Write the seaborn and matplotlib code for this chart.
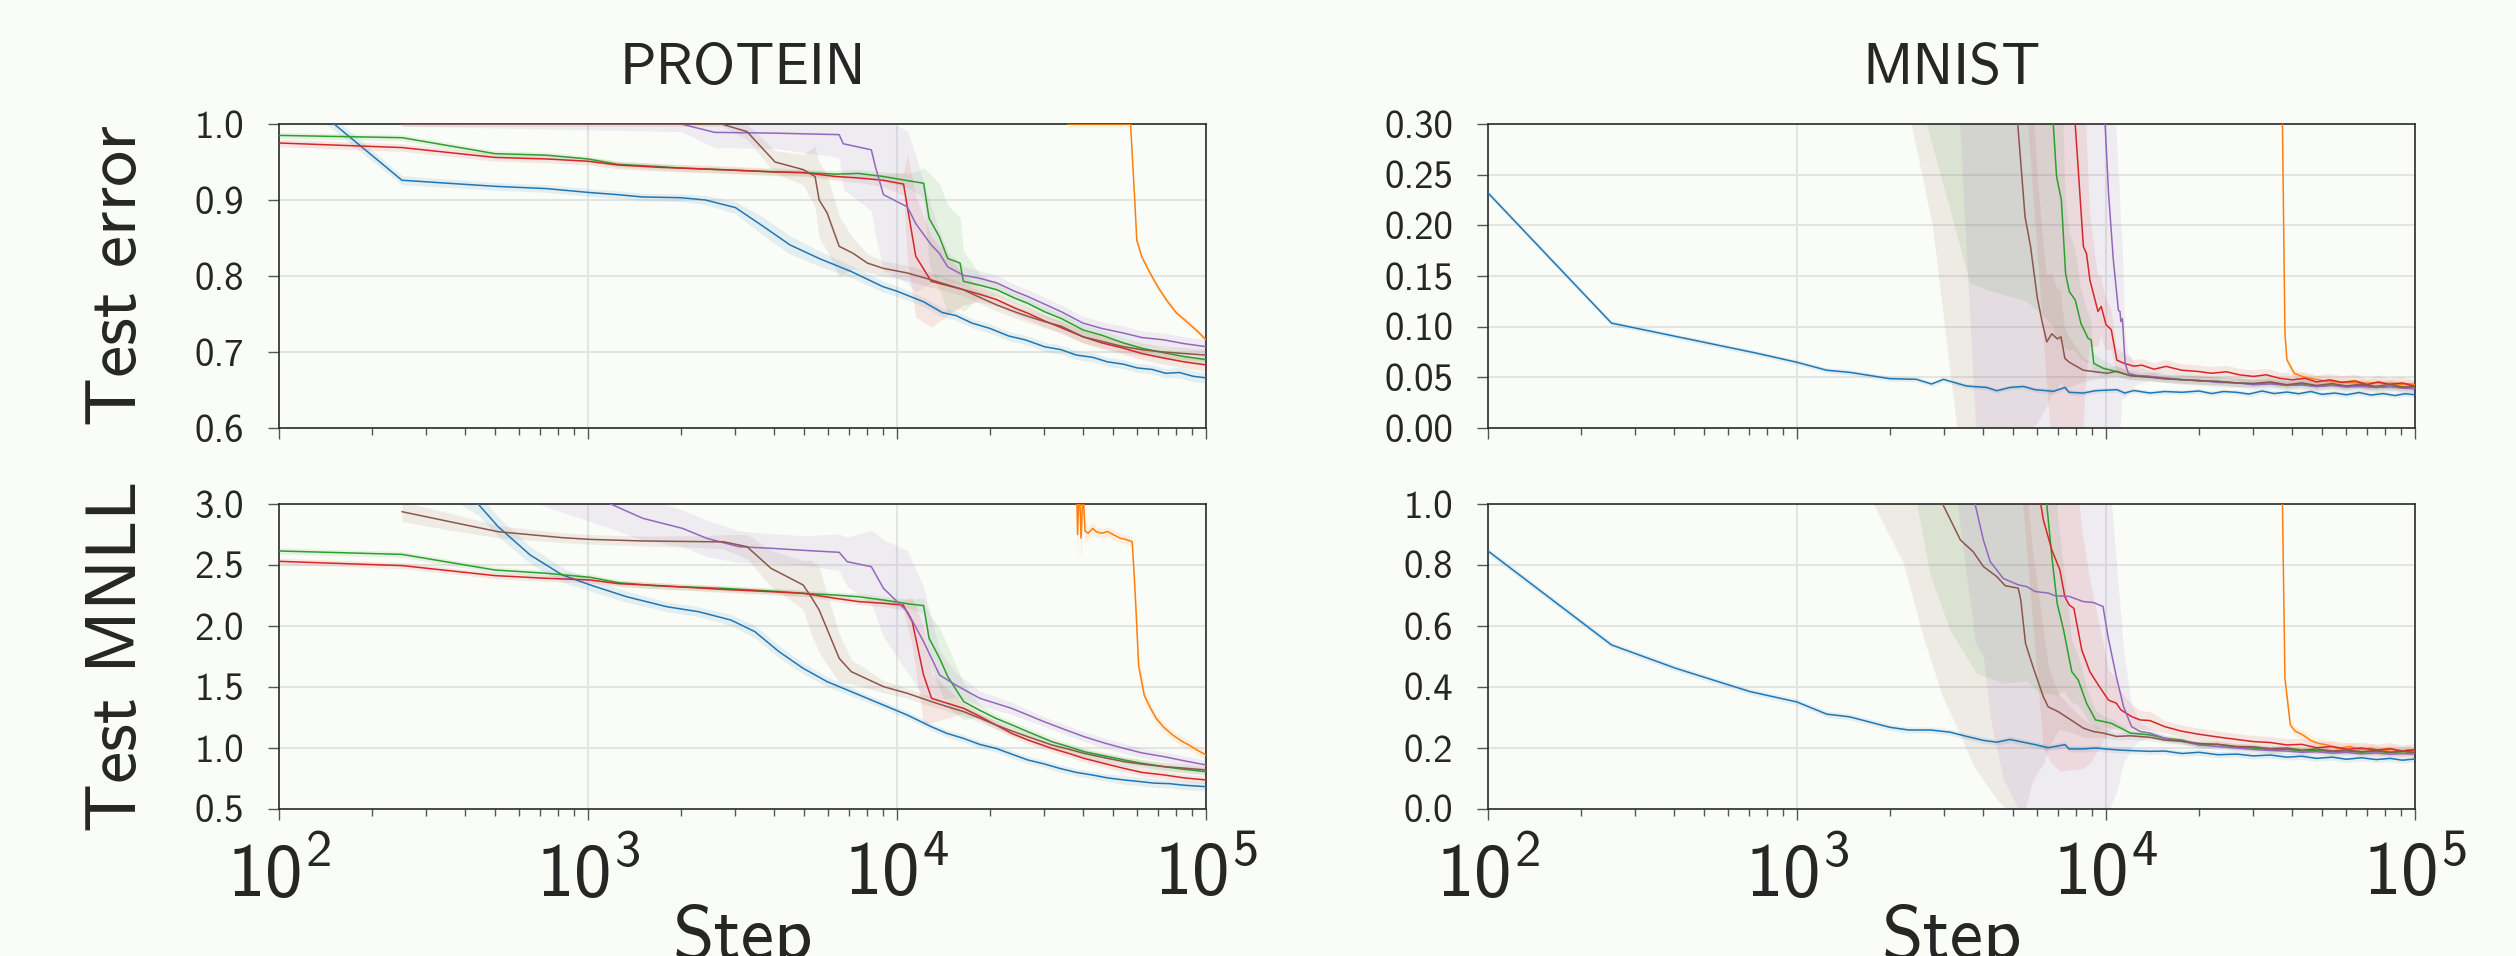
import numpy as np
import matplotlib
matplotlib.use("Agg")
import matplotlib.pyplot as plt
import seaborn as sns
from matplotlib.ticker import FixedLocator, FormatStrFormatter, LogLocator, NullFormatter

# ---------------- data: PROTEIN, test error ----------------
pe_blue_x = [100, 250, 500, 733, 1000, 1250, 1500, 2000, 2400, 3000, 3700, 4500, 5600, 7100, 9000, 10000, 12200, 14000, 15500, 17500,
             20000, 23000, 26000, 30000, 34000, 38000, 43000, 48000, 54000, 60000, 67000, 74000, 82000, 91000, 100000]
pe_blue_y = [1.06, 0.926, 0.918, 0.915, 0.910, 0.907, 0.904, 0.903, 0.900, 0.890, 0.865, 0.841, 0.823, 0.806, 0.786, 0.780, 0.766, 0.752, 0.748, 0.738,
             0.731, 0.721, 0.716, 0.707, 0.703, 0.696, 0.693, 0.687, 0.684, 0.679, 0.677, 0.672, 0.673, 0.668, 0.666]
pe_blue_sd = [0.01, 0.006, 0.005, 0.005, 0.005, 0.005, 0.005, 0.005, 0.006, 0.008, 0.012, 0.012, 0.01, 0.008, 0.007, 0.007, 0.006, 0.006, 0.006, 0.006,
              0.006, 0.006, 0.006, 0.006, 0.006, 0.006, 0.006, 0.006, 0.006, 0.006, 0.006, 0.006, 0.007, 0.007, 0.007]

pe_green_x = [100, 250, 500, 733, 1000, 1250, 1700, 2000, 3000, 4000, 5000, 6300, 7500, 9000, 11000, 12200, 12700, 13700, 14600, 16000,
              16400, 18500, 21000, 24000, 26500, 30000, 34000, 40000, 46000, 54000, 62000, 73000, 85000, 100000]
pe_green_y = [0.985, 0.982, 0.961, 0.959, 0.954, 0.947, 0.944, 0.942, 0.939, 0.937, 0.936, 0.934, 0.935, 0.931, 0.925, 0.922, 0.876, 0.852, 0.823, 0.817,
              0.793, 0.788, 0.782, 0.771, 0.764, 0.753, 0.744, 0.729, 0.722, 0.712, 0.705, 0.699, 0.694, 0.690]
pe_green_sd = [0.004, 0.004, 0.004, 0.004, 0.004, 0.004, 0.004, 0.004, 0.004, 0.004, 0.004, 0.005, 0.005, 0.006, 0.01, 0.02, 0.06, 0.07, 0.07, 0.06,
               0.04, 0.015, 0.008, 0.007, 0.007, 0.007, 0.007, 0.007, 0.007, 0.007, 0.007, 0.007, 0.007, 0.007]

pe_red_x = [100, 250, 500, 733, 1000, 1250, 1700, 2700, 4000, 5000, 6300, 7500, 9000, 10500, 10800, 11500, 12900, 16400, 18500, 21000,
            24000, 26500, 30000, 34000, 40000, 46000, 54000, 62000, 73000, 85000, 100000]
pe_red_y = [0.975, 0.969, 0.956, 0.954, 0.951, 0.946, 0.943, 0.940, 0.937, 0.936, 0.931, 0.929, 0.926, 0.921, 0.891, 0.826, 0.793, 0.782, 0.776, 0.769,
            0.758, 0.751, 0.741, 0.732, 0.720, 0.712, 0.705, 0.698, 0.692, 0.687, 0.683]
pe_red_sd = [0.005, 0.005, 0.005, 0.005, 0.005, 0.005, 0.005, 0.005, 0.005, 0.005, 0.005, 0.006, 0.008, 0.015, 0.07, 0.08, 0.06, 0.02, 0.01, 0.008,
             0.008, 0.008, 0.008, 0.008, 0.008, 0.008, 0.008, 0.008, 0.008, 0.008, 0.008]

pe_purple_x = [250, 2000, 2570, 4000, 6500, 6700, 8260, 8510, 9040, 10800, 11500, 12900, 13700, 14600, 16400, 18500, 21000, 24000, 26500, 30000,
               34000, 40000, 46000, 54000, 62000, 73000, 85000, 100000]
pe_purple_y = [1.0, 1.0, 0.989, 0.988, 0.986, 0.974, 0.966, 0.944, 0.907, 0.891, 0.869, 0.841, 0.830, 0.812, 0.801, 0.797, 0.791, 0.780, 0.773, 0.763,
               0.753, 0.738, 0.731, 0.725, 0.719, 0.716, 0.711, 0.707]
pe_purple_sd = [0.003, 0.01, 0.02, 0.02, 0.03, 0.06, 0.08, 0.09, 0.1, 0.1, 0.09, 0.05, 0.03, 0.02, 0.012, 0.01, 0.01, 0.009, 0.009, 0.009,
                0.009, 0.009, 0.009, 0.009, 0.009, 0.009, 0.009, 0.009]

pe_brown_x = [250, 2700, 3270, 4030, 4970, 5430, 5600, 5940, 6500, 7200, 8020, 9040, 10800, 12900, 16400, 18500, 21000, 24000, 26500, 30000,
              34000, 40000, 46000, 54000, 62000, 73000, 85000, 100000]
pe_brown_y = [1.0, 1.0, 0.990, 0.950, 0.940, 0.931, 0.900, 0.883, 0.839, 0.830, 0.817, 0.810, 0.804, 0.795, 0.782, 0.772, 0.762, 0.753, 0.747, 0.740,
              0.734, 0.720, 0.714, 0.707, 0.703, 0.700, 0.698, 0.696]
pe_brown_sd = [0.003, 0.003, 0.01, 0.015, 0.02, 0.04, 0.05, 0.05, 0.04, 0.02, 0.012, 0.01, 0.01, 0.01, 0.008, 0.008, 0.008, 0.008, 0.008, 0.008,
               0.008, 0.008, 0.008, 0.008, 0.008, 0.008, 0.008, 0.008]

pe_orange_x = [35700, 45000, 57000, 58800, 59700, 62000, 65900, 70000, 74600, 80000, 87700, 94000, 100000]
pe_orange_y = [1.0, 1.0, 1.0, 0.900, 0.847, 0.825, 0.804, 0.785, 0.768, 0.752, 0.738, 0.727, 0.716]
pe_orange_sd = 0.004

# ---------------- data: MNIST, test error ----------------
me_blue_x = [100, 251, 515, 738, 995, 1248, 1483, 1995, 2438, 2725, 2977, 3540, 4110, 4430, 4890, 5400, 5900, 6760, 7360, 7600,
             8450, 9250, 10840, 11500, 12300, 13870, 15500, 17600, 20000, 22000, 24000, 26500, 29000, 32000, 35000, 38500, 42000, 46000, 50000, 55000,
             60000, 66000, 72000, 79000, 86000, 93000, 100000]
me_blue_y = [0.232, 0.1035, 0.0838, 0.0739, 0.065, 0.057, 0.0549, 0.0487, 0.048, 0.0434, 0.048, 0.0414, 0.040, 0.0368, 0.040, 0.041, 0.0378, 0.0362, 0.040, 0.0352,
             0.0345, 0.0368, 0.0378, 0.0345, 0.037, 0.0345, 0.036, 0.0352, 0.0365, 0.034, 0.036, 0.0352, 0.0335, 0.0365, 0.034, 0.0355, 0.0338, 0.036, 0.0332, 0.0345,
             0.0328, 0.035, 0.0325, 0.034, 0.032, 0.0338, 0.0328]
me_blue_sd = 0.0025

me_brown_x = [250, 1000, 2000, 2350, 2750, 3300, 4000, 4600, 5180, 5470, 5700, 5990, 6230, 6430, 6680, 6950, 7150, 7360, 7600, 8450,
              9250, 10100, 10800, 12000, 13870, 15500, 17600, 20000, 23000, 26500, 30000, 34000, 38500, 43000, 48000, 54000, 60000, 67000, 75000, 83000,
              91000, 100000]
me_brown_y = [0.90, 0.90, 0.90, 0.88, 0.85, 0.80, 0.62, 0.45, 0.30, 0.2085, 0.179, 0.129, 0.103, 0.085, 0.093, 0.088, 0.090, 0.0687, 0.065, 0.057,
              0.0555, 0.054, 0.056, 0.0515, 0.050, 0.0485, 0.0476, 0.0468, 0.046, 0.0445, 0.044, 0.0455, 0.0427, 0.0445, 0.042, 0.0438, 0.0415, 0.0432, 0.041, 0.043,
              0.0405, 0.041]
me_brown_sd = [0.05, 0.05, 0.25, 0.58, 0.65, 0.80, 0.67, 0.48, 0.32, 0.22, 0.18, 0.125, 0.09, 0.065, 0.06, 0.05, 0.045, 0.03, 0.025, 0.012,
               0.008, 0.005, 0.005, 0.004, 0.004, 0.004, 0.004, 0.004, 0.004, 0.004, 0.004, 0.004, 0.004, 0.004, 0.004, 0.004, 0.004, 0.004, 0.004, 0.004,
               0.004, 0.004]

me_green_x = [250, 1000, 2000, 2630, 3170, 3630, 4220, 5530, 6300, 6750, 6920, 7170, 7400, 7610, 7950, 8300, 8750, 8950, 9130, 9780,
              10840, 11900, 13870, 15500, 17600, 20000, 23000, 26500, 30000, 34000, 38500, 43000, 48000, 54000, 60000, 67000, 75000, 83000, 91000, 100000]
me_green_y = [0.90, 0.90, 0.88, 0.85, 0.78, 0.70, 0.62, 0.48, 0.38, 0.30, 0.248, 0.225, 0.1525, 0.1345, 0.1263, 0.103, 0.0885, 0.087, 0.0638, 0.059,
              0.0555, 0.052, 0.0507, 0.049, 0.0478, 0.0465, 0.046, 0.0445, 0.0435, 0.0445, 0.042, 0.0432, 0.041, 0.0425, 0.0408, 0.042, 0.040, 0.0412, 0.0395, 0.039]
me_green_sd = [0.05, 0.05, 0.40, 0.55, 0.57, 0.557, 0.485, 0.355, 0.27, 0.20, 0.16, 0.14, 0.075, 0.058, 0.05, 0.035, 0.025, 0.02, 0.01, 0.008,
               0.005, 0.005, 0.004, 0.004, 0.004, 0.004, 0.004, 0.004, 0.004, 0.004, 0.004, 0.004, 0.004, 0.004, 0.004, 0.004, 0.004, 0.004, 0.004, 0.004]

me_red_x = [250, 2000, 4000, 5600, 6600, 7400, 7950, 8450, 8650, 8870, 9420, 9650, 10000, 10400, 10840, 11400, 12300, 13060, 14300, 15640,
            17600, 19860, 22000, 24500, 27000, 30000, 33000, 36500, 40000, 44000, 48000, 53000, 58000, 64000, 70000, 76000, 83000, 91000, 100000]
me_red_y = [0.90, 0.90, 0.85, 0.75, 0.55, 0.40, 0.30, 0.179, 0.172, 0.146, 0.115, 0.12, 0.102, 0.097, 0.067, 0.064, 0.061, 0.062, 0.058, 0.0608,
            0.057, 0.0558, 0.054, 0.0555, 0.0525, 0.0509, 0.0525, 0.049, 0.0476, 0.049, 0.0455, 0.0475, 0.045, 0.0465, 0.0427, 0.0455, 0.043, 0.0445, 0.041]
me_red_sd = [0.05, 0.05, 0.3, 0.45, 0.55, 0.42, 0.32, 0.18, 0.12, 0.066, 0.035, 0.03, 0.025, 0.02, 0.012, 0.01, 0.006, 0.006, 0.006, 0.006,
             0.006, 0.006, 0.006, 0.006, 0.006, 0.006, 0.006, 0.006, 0.006, 0.006, 0.006, 0.006, 0.006, 0.006, 0.006, 0.006, 0.006, 0.006, 0.006]

me_purple_x = [250, 2000, 3370, 3800, 5000, 7000, 9000, 9930, 10190, 10560, 10970, 11100, 11170, 11300, 11530, 11800, 12500, 13870, 15500, 17600,
               20000, 23000, 26500, 30000, 34000, 38500, 43000, 48000, 54000, 60000, 67000, 75000, 83000, 91000, 100000]
me_purple_y = [0.90, 0.90, 0.88, 0.85, 0.75, 0.60, 0.42, 0.30, 0.232, 0.166, 0.116, 0.115, 0.105, 0.108, 0.064, 0.054, 0.052, 0.051, 0.0495, 0.0476,
               0.047, 0.045, 0.0445, 0.0427, 0.0435, 0.042, 0.0425, 0.041, 0.042, 0.0405, 0.041, 0.040, 0.0408, 0.0395, 0.039]
me_purple_sd = [0.05, 0.1, 0.58, 0.85, 0.78, 0.63, 0.45, 0.33, 0.26, 0.19, 0.14, 0.12, 0.1, 0.08, 0.035, 0.02, 0.01, 0.005, 0.005, 0.005,
                0.005, 0.005, 0.005, 0.005, 0.005, 0.005, 0.005, 0.005, 0.005, 0.005, 0.005, 0.005, 0.005, 0.005, 0.005]

me_orange_x = [35700, 37000, 37240, 37940, 38500, 40600, 43000, 45700, 49000, 52000, 56000, 60000, 65000, 70000, 75000, 80000, 85000, 90000, 95000, 100000]
me_orange_y = [0.90, 0.90, 0.30, 0.0937, 0.0673, 0.0542, 0.051, 0.049, 0.0475, 0.046, 0.0455, 0.045, 0.0445, 0.044, 0.0448, 0.0435, 0.0442, 0.043, 0.0438, 0.0427]
me_orange_sd = 0.004

# ---------------- data: PROTEIN, test MNLL ----------------
pm_blue_x = [100, 250, 441, 512, 650, 826, 1018, 1333, 1800, 2280, 2900, 3466, 4150, 4970, 5940, 7110, 9040, 10800, 12900, 14500,
             16400, 18500, 20900, 23500, 26500, 29900, 33600, 38000, 42800, 48000, 54300, 61000, 68000, 76000, 85000, 100000]
pm_blue_y = [4.3, 3.4, 3.0, 2.814, 2.582, 2.418, 2.336, 2.24, 2.158, 2.117, 2.049, 1.954, 1.79, 1.653, 1.544, 1.462, 1.352, 1.27, 1.175, 1.12,
             1.079, 1.03, 0.997, 0.95, 0.902, 0.87, 0.833, 0.80, 0.779, 0.755, 0.738, 0.725, 0.712, 0.708, 0.695, 0.683]
pm_blue_sd = [0.2, 0.12, 0.09, 0.08, 0.07, 0.06, 0.05, 0.045, 0.04, 0.04, 0.045, 0.05, 0.05, 0.045, 0.04, 0.035, 0.03, 0.03, 0.03, 0.03,
              0.03, 0.03, 0.03, 0.03, 0.03, 0.03, 0.03, 0.03, 0.03, 0.03, 0.035, 0.035, 0.035, 0.035, 0.035, 0.035]

pm_green_x = [100, 250, 500, 733, 1018, 1256, 1694, 2730, 4000, 4970, 6310, 7500, 9040, 11000, 12190, 12700, 13740, 14600, 16440, 18500,
              20900, 23500, 26500, 31700, 36000, 40300, 47000, 54300, 62000, 73200, 85000, 100000]
pm_green_y = [2.615, 2.587, 2.459, 2.432, 2.399, 2.355, 2.328, 2.309, 2.285, 2.268, 2.254, 2.24, 2.213, 2.18, 2.167, 1.90, 1.735, 1.585, 1.38, 1.31,
              1.243, 1.19, 1.134, 1.052, 1.01, 0.97, 0.935, 0.902, 0.875, 0.847, 0.825, 0.806]
pm_green_sd = [0.025, 0.025, 0.025, 0.025, 0.025, 0.025, 0.025, 0.025, 0.025, 0.025, 0.025, 0.03, 0.03, 0.04, 0.06, 0.2, 0.25, 0.25, 0.15, 0.05,
               0.03, 0.03, 0.03, 0.03, 0.03, 0.03, 0.03, 0.03, 0.03, 0.03, 0.03, 0.03]

pm_red_x = [100, 250, 500, 733, 1018, 1256, 1694, 2730, 4000, 4970, 6310, 7500, 9040, 10470, 11200, 12190, 12940, 16440, 18500, 20900,
            23500, 26500, 31700, 36000, 40300, 47000, 54300, 62000, 73200, 85000, 100000]
pm_red_y = [2.530, 2.495, 2.413, 2.391, 2.377, 2.347, 2.331, 2.30, 2.28, 2.268, 2.227, 2.20, 2.186, 2.172, 2.036, 1.598, 1.407, 1.325, 1.26, 1.189,
            1.12, 1.066, 0.997, 0.955, 0.915, 0.872, 0.833, 0.80, 0.779, 0.755, 0.738]
pm_red_sd = [0.025, 0.025, 0.025, 0.025, 0.025, 0.025, 0.025, 0.025, 0.025, 0.025, 0.025, 0.025, 0.03, 0.04, 0.2, 0.4, 0.2, 0.04, 0.03, 0.03,
             0.03, 0.03, 0.03, 0.03, 0.03, 0.03, 0.03, 0.03, 0.03, 0.03, 0.03]

pm_purple_x = [250, 600, 1183, 1503, 2023, 2420, 3075, 3910, 5000, 6500, 6900, 8260, 9040, 10810, 12190, 13740, 15490, 18550, 23500, 29900,
               35000, 40300, 47000, 54300, 62000, 73200, 85000, 100000]
pm_purple_y = [3.6, 3.3, 3.0, 2.883, 2.80, 2.719, 2.65, 2.637, 2.62, 2.604, 2.527, 2.486, 2.309, 2.117, 1.872, 1.598, 1.516, 1.407, 1.325, 1.216,
               1.15, 1.093, 1.04, 0.997, 0.96, 0.929, 0.895, 0.861]
pm_purple_sd = [0.3, 0.25, 0.2, 0.18, 0.15, 0.15, 0.13, 0.12, 0.12, 0.15, 0.2, 0.3, 0.4, 0.5, 0.45, 0.2, 0.1, 0.06, 0.05, 0.04,
                0.04, 0.04, 0.04, 0.04, 0.04, 0.04, 0.04, 0.04]

pm_brown_x = [250, 357, 512, 826, 1018, 1503, 2420, 2750, 3270, 3910, 4970, 5270, 5600, 6500, 7110, 9040, 10810, 12940, 14500, 16440,
              18500, 20900, 23500, 26500, 31700, 36000, 40300, 47000, 54300, 62000, 73200, 85000, 100000]
pm_brown_y = [2.937, 2.855, 2.773, 2.724, 2.71, 2.697, 2.691, 2.69, 2.65, 2.473, 2.336, 2.240, 2.131, 1.735, 1.626, 1.503, 1.448, 1.38, 1.34, 1.298,
              1.245, 1.189, 1.14, 1.093, 1.025, 0.99, 0.956, 0.92, 0.888, 0.868, 0.847, 0.835, 0.82]
pm_brown_sd = [0.08, 0.07, 0.05, 0.04, 0.04, 0.04, 0.05, 0.06, 0.1, 0.15, 0.2, 0.3, 0.35, 0.2, 0.1, 0.05, 0.04, 0.04, 0.035, 0.035,
               0.035, 0.035, 0.035, 0.035, 0.035, 0.035, 0.035, 0.035, 0.035, 0.035, 0.035, 0.035, 0.035]

pm_orange_x = [35700, 37900, 38400, 38900, 39400, 40000, 40600, 41500, 43000, 44100, 46000, 48000, 50000, 52700, 55000, 57700, 58600, 59400, 60500, 63100,
               66000, 69000, 73000, 78000, 83000, 88000, 94000, 100000]
pm_orange_y = [3.6, 3.5, 2.75, 3.2, 2.72, 3.1, 2.78, 2.76, 2.80, 2.773, 2.76, 2.775, 2.75, 2.72, 2.71, 2.69, 2.40, 2.117, 1.68, 1.434,
               1.33, 1.243, 1.17, 1.107, 1.06, 1.025, 0.98, 0.943]
pm_orange_sd = [0.3, 0.3, 0.25, 0.25, 0.2, 0.2, 0.1, 0.05, 0.05, 0.04, 0.04, 0.04, 0.04, 0.04, 0.04, 0.04, 0.06, 0.08, 0.08, 0.06,
                0.04, 0.04, 0.04, 0.04, 0.04, 0.04, 0.04, 0.04]

# ---------------- data: MNIST, test MNLL ----------------
mm_blue_x = [100, 251, 406, 704, 999, 1248, 1483, 1995, 2300, 2700, 3125, 3540, 4010, 4430, 4890, 5400, 5900, 6500, 7360, 7600,
             8450, 9250, 10200, 11170, 13870, 15500, 17600, 20000, 23000, 26500, 30000, 34000, 38500, 43000, 48000, 54000, 60000, 67000, 75000, 83000,
             91000, 100000]
mm_blue_y = [0.846, 0.538, 0.461, 0.385, 0.351, 0.311, 0.302, 0.268, 0.259, 0.259, 0.252, 0.238, 0.225, 0.219, 0.228, 0.219, 0.211, 0.201, 0.211, 0.197,
             0.197, 0.200, 0.196, 0.193, 0.189, 0.19, 0.182, 0.186, 0.178, 0.18, 0.174, 0.177, 0.17, 0.173, 0.166, 0.17, 0.163, 0.168, 0.162, 0.166,
             0.16, 0.164]
mm_blue_sd = 0.01

mm_brown_x = [250, 1000, 1766, 2210, 2560, 2960, 3380, 3720, 4010, 4430, 4720, 5200, 5300, 5490, 5800, 6270, 6500, 7010, 7700, 8450,
              9100, 9780, 10800, 12000, 13870, 15500, 17600, 20000, 23000, 26500, 30000, 34000, 38500, 43000, 48000, 54000, 60000, 67000, 75000, 83000,
              91000, 100000]
mm_brown_y = [2.0, 2.0, 1.9, 1.6, 1.35, 1.0, 0.882, 0.843, 0.795, 0.762, 0.732, 0.724, 0.685, 0.543, 0.467, 0.368, 0.335, 0.319, 0.292, 0.265,
              0.254, 0.249, 0.238, 0.24, 0.235, 0.226, 0.222, 0.215, 0.212, 0.205, 0.204, 0.198, 0.2, 0.193, 0.197, 0.19, 0.194, 0.188, 0.192, 0.186,
              0.19, 0.185]
mm_brown_sd = [0.1, 0.1, 0.9, 0.794, 0.785, 0.632, 0.64, 0.70, 0.70, 0.73, 0.73, 0.73, 0.70, 0.54, 0.37, 0.22, 0.135, 0.06, 0.04, 0.03,
               0.02, 0.015, 0.012, 0.012, 0.01, 0.01, 0.01, 0.01, 0.01, 0.01, 0.01, 0.01, 0.01, 0.01, 0.01, 0.01, 0.01, 0.01, 0.01, 0.01,
               0.01, 0.01]

mm_green_x = [250, 1000, 2440, 2690, 3125, 3810, 4650, 5540, 6100, 6430, 6680, 6950, 7290, 7750, 8130, 8650, 9250, 9780, 10400, 11170,
              12000, 13870, 15500, 17600, 20000, 23000, 26500, 30000, 34000, 38500, 43000, 48000, 54000, 60000, 67000, 75000, 83000, 91000, 100000]
mm_green_y = [2.0, 2.0, 1.9, 1.8, 1.7, 1.6, 1.45, 1.25, 1.1, 1.0, 0.827, 0.674, 0.587, 0.45, 0.423, 0.347, 0.292, 0.287, 0.281, 0.265,
              0.249, 0.243, 0.232, 0.226, 0.21, 0.212, 0.203, 0.2, 0.193, 0.196, 0.19, 0.192, 0.188, 0.19, 0.186, 0.189, 0.185, 0.188, 0.186]
mm_green_sd = [0.1, 0.1, 0.9, 1.027, 1.113, 1.155, 1.038, 0.83, 0.72, 0.62, 0.45, 0.3, 0.2, 0.1, 0.08, 0.05, 0.03, 0.02, 0.015, 0.012,
               0.01, 0.01, 0.01, 0.01, 0.01, 0.01, 0.01, 0.01, 0.01, 0.01, 0.01, 0.01, 0.01, 0.01, 0.01, 0.01, 0.01, 0.01, 0.01]

mm_red_x = [250, 1000, 5370, 6150, 6270, 6680, 7090, 7360, 7600, 7870, 8350, 8870, 9520, 10190, 10800, 11170, 12100, 12900, 13870, 15500,
            17600, 20000, 23800, 26500, 30000, 34000, 38500, 43000, 48000, 54000, 60000, 67000, 75000, 83000, 91000, 100000]
mm_red_y = [2.5, 2.5, 1.8, 1.0, 0.948, 0.849, 0.784, 0.696, 0.669, 0.658, 0.521, 0.45, 0.401, 0.357, 0.347, 0.325, 0.303, 0.292, 0.29, 0.27,
            0.255, 0.245, 0.234, 0.228, 0.221, 0.218, 0.21, 0.212, 0.201, 0.205, 0.196, 0.2, 0.193, 0.198, 0.19, 0.195]
mm_red_sd = [0.1, 0.1, 0.8, 0.7, 0.75, 0.7, 0.66, 0.57, 0.54, 0.53, 0.39, 0.3, 0.2, 0.1, 0.08, 0.06, 0.04, 0.03, 0.03, 0.02,
             0.02, 0.02, 0.02, 0.02, 0.02, 0.02, 0.02, 0.02, 0.02, 0.02, 0.02, 0.02, 0.02, 0.02, 0.02, 0.02]

mm_purple_x = [250, 1000, 3300, 3770, 4010, 4220, 4650, 5200, 5540, 5900, 6500, 6850, 7600, 8450, 9100, 9780, 10150, 10800, 11400, 12100,
               12900, 13870, 15500, 17600, 20000, 23000, 26500, 30000, 34000, 38500, 43000, 48000, 54000, 60000, 67000, 75000, 83000, 91000, 100000]
mm_purple_y = [2.5, 2.5, 1.8, 1.0, 0.882, 0.811, 0.756, 0.735, 0.729, 0.713, 0.708, 0.699, 0.697, 0.680, 0.677, 0.664, 0.565, 0.434, 0.335, 0.27,
               0.254, 0.249, 0.232, 0.222, 0.21, 0.205, 0.2, 0.195, 0.192, 0.19, 0.186, 0.188, 0.183, 0.186, 0.181, 0.184, 0.18, 0.182, 0.18]
mm_purple_sd = [0.1, 0.1, 0.8, 0.45, 0.38, 0.51, 0.656, 0.735, 0.75, 0.74, 0.74, 0.73, 0.73, 0.71, 0.70, 0.69, 0.575, 0.38, 0.185, 0.07,
                0.03, 0.015, 0.01, 0.01, 0.01, 0.01, 0.01, 0.01, 0.01, 0.01, 0.01, 0.01, 0.01, 0.01, 0.01, 0.01, 0.01, 0.01, 0.01]

mm_orange_x = [35700, 37000, 37240, 37940, 39500, 41000, 43300, 46000, 48700, 52000, 56000, 61700, 66000, 72000, 78000, 84000, 90000, 95000, 100000]
mm_orange_y = [2.5, 2.5, 1.0, 0.428, 0.275, 0.255, 0.243, 0.225, 0.215, 0.21, 0.199, 0.205, 0.195, 0.2, 0.19, 0.196, 0.188, 0.194, 0.188]
mm_orange_sd = 0.015

# ---------------- axis settings ----------------
titles = ["PROTEIN", "MNIST"]
row_labels = ["Test error", "Test MNLL"]
pe_yticks = [0.6, 0.7, 0.8, 0.9, 1.0]
me_yticks = [0.00, 0.05, 0.10, 0.15, 0.20, 0.25, 0.30]
pm_yticks = [0.5, 1.0, 1.5, 2.0, 2.5, 3.0]
mm_yticks = [0.0, 0.2, 0.4, 0.6, 0.8, 1.0]
x_limits = [100, 100000]

# ---------------- style ----------------
sns.set_theme(style="ticks")
plt.rcParams["font.family"] = ["cmss10", "DejaVu Sans"]
plt.rcParams["mathtext.fontset"] = "custom"
plt.rcParams["mathtext.rm"] = "cmss10"
plt.rcParams["mathtext.it"] = "cmss10"
plt.rcParams["mathtext.bf"] = "cmss10"
plt.rcParams["mathtext.sf"] = "cmss10"
plt.rcParams["axes.unicode_minus"] = False
plt.rcParams["axes.formatter.use_mathtext"] = True

BG = "#fafcf7"
GRID = "#e3e5e3"
SPINE = "#2b2b2b"
pal = sns.color_palette("tab10")
COL = {"blue": pal[0], "orange": pal[1], "green": pal[2], "red": pal[3], "purple": pal[4], "brown": pal[5]}
ORDER = ["blue", "orange", "green", "red", "purple", "brown"]


def series_of(prefix):
    g = globals()
    out = []
    for name in ORDER:
        out.append((name, g[f"{prefix}_{name}_x"], g[f"{prefix}_{name}_y"], g[f"{prefix}_{name}_sd"]))
    return out


panels = [
    # prefix, rect, ylim, yticks, fmt, title, ylabel, show x labels
    ("pe", [279 / 2516, 1 - 428 / 956, 927 / 2516, 304 / 956], (0.6, 1.0), pe_yticks, "%.1f", titles[0], row_labels[0], False),
    ("me", [1488 / 2516, 1 - 428 / 956, 927 / 2516, 304 / 956], (0.0, 0.30), me_yticks, "%.2f", titles[1], None, False),
    ("pm", [279 / 2516, 1 - 809 / 956, 927 / 2516, 305 / 956], (0.5, 3.0), pm_yticks, "%.1f", None, row_labels[1], True),
    ("mm", [1488 / 2516, 1 - 809 / 956, 927 / 2516, 305 / 956], (0.0, 1.0), mm_yticks, "%.1f", None, None, True),
]

fig = plt.figure(figsize=(25.16, 9.56), dpi=100, facecolor=BG)

for prefix, rect, ylim, yticks, fmt, title, ylabel, showx in panels:
    ax = fig.add_axes(rect)
    ax.set_facecolor(BG)
    ax.set_xscale("log")
    for name, xs, ys, sd in series_of(prefix):
        xa = np.asarray(xs, dtype=float)
        ya = np.asarray(ys, dtype=float)
        sa = np.asarray(sd, dtype=float)
        ax.fill_between(xa, ya - sa, ya + sa, color=COL[name], alpha=0.1, lw=0, zorder=2)
        sns.lineplot(x=xa, y=ya, ax=ax, color=COL[name], lw=1.1, estimator=None, sort=False, zorder=3)
    ax.set_xlim(*x_limits)
    ax.set_ylim(*ylim)
    ax.yaxis.set_major_locator(FixedLocator(yticks))
    ax.yaxis.set_major_formatter(FormatStrFormatter(fmt))
    ax.xaxis.set_major_locator(LogLocator(base=10, numticks=10))
    ax.xaxis.set_minor_locator(LogLocator(base=10, subs=np.arange(2, 10), numticks=100))
    ax.xaxis.set_minor_formatter(NullFormatter())
    ax.set_axisbelow(True)
    ax.grid(True, which="major", color=GRID, lw=1.5)
    ax.grid(False, which="minor")
    for sp in ax.spines.values():
        sp.set_visible(True)
        sp.set_color(SPINE)
        sp.set_linewidth(1.2)
    ax.tick_params(axis="both", which="major", length=8, width=1.0, color="#555555",
                   labelsize=28, pad=17, direction="out")
    ax.tick_params(axis="x", which="minor", length=5, width=1.0, color="#555555", direction="out")
    ax.tick_params(axis="x", which="major", labelsize=54, pad=14)
    if not showx:
        ax.tick_params(axis="x", which="both", labelbottom=False)
    else:
        ax.set_xlabel("Step", fontsize=54)
        ax.xaxis.set_label_coords(0.5, -0.31)
    if title:
        ax.set_title(title, fontsize=41.5, pad=29)
    if ylabel:
        ax.set_ylabel(ylabel, fontsize=52, va="center")
        ax.yaxis.set_label_coords(-0.1737, 0.5)

fig.savefig("out.png", dpi=100, facecolor=BG)
